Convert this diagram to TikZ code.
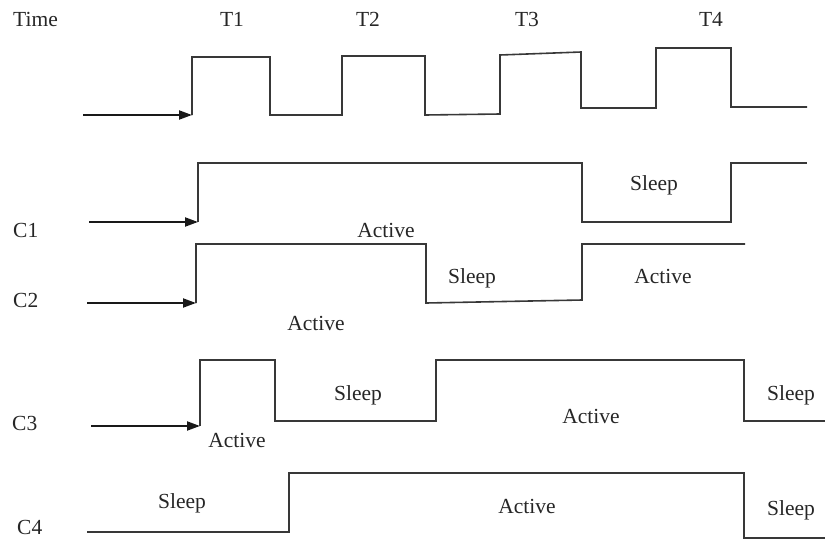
\documentclass[tikz,border=0pt]{standalone}
\usepackage{fontspec}
\setmainfont{Liberation Serif}
\usetikzlibrary{arrows.meta}
\begin{document}
\begin{tikzpicture}[x=1pt,y=-1pt,
  wave/.style={draw=black!78,line width=1.6pt,line join=miter},
  inarrow/.style={draw=black!90,line width=2pt,-{Triangle[length=13pt,width=9pt]}},
  lbl/.style={font=\fontsize{21.5}{24}\selectfont,text=black!85,inner sep=0pt,anchor=base},
  rowlbl/.style={lbl,anchor=base west}]
\useasboundingbox (0,0) rectangle (825,539);
% row labels
\node[rowlbl] (ltime) at (13,26) {Time};
\node[rowlbl] (lc1) at (13,237) {C1};
\node[rowlbl] (lc2) at (13,307) {C2};
\node[rowlbl] (lc3) at (12,430) {C3};
\node[rowlbl] (lc4) at (17,534) {C4};
% time labels
\node[lbl] (T1) at (232,26) {T1};
\node[lbl] (T2) at (368,26) {T2};
\node[lbl] (T3) at (527,26) {T3};
\node[lbl] (T4) at (711,26) {T4};
% Time waveform
\coordinate (ta) at (83,115);
\coordinate (tb) at (192,115);
\draw[inarrow] (ta) -- (tb);
\draw[wave] (tb) -- (192,57) -- (270,57) -- (270,115) -- (342,115) -- (342,56) -- (425,56) -- (425,115) -- (500,114) -- (500,55) -- (581,52) -- (581,108) -- (656,108) -- (656,48) -- (731,48) -- (731,107) -- (807,107);
% C1
\coordinate (c1a) at (89,222);
\coordinate (c1b) at (198,222);
\draw[inarrow] (c1a) -- (c1b);
\draw[wave] (c1b) -- (198,163) -- (582,163) -- (582,222) -- (731,222) -- (731,163) -- (807,163);
\node[lbl] (c1act) at (386,237) {Active};
\node[lbl] (c1slp) at (654,190) {Sleep};
% C2
\coordinate (c2a) at (87,303);
\coordinate (c2b) at (196,303);
\draw[inarrow] (c2a) -- (c2b);
\draw[wave] (c2b) -- (196,244) -- (426,244) -- (426,303) -- (582,300) -- (582,244) -- (745,244);
\node[lbl] (c2act) at (316,330) {Active};
\node[lbl] (c2slp) at (472,283) {Sleep};
\node[lbl] (c2act2) at (663,283) {Active};
% C3
\coordinate (c3a) at (91,426);
\coordinate (c3b) at (200,426);
\draw[inarrow] (c3a) -- (c3b);
\draw[wave] (c3b) -- (200,360) -- (275,360) -- (275,421) -- (436,421) -- (436,360) -- (744,360) -- (744,421) -- (825,421);
\node[lbl] (c3act) at (237,447) {Active};
\node[lbl] (c3slp) at (358,400) {Sleep};
\node[lbl] (c3act2) at (591,423) {Active};
\node[lbl] (c3slp2) at (791,400) {Sleep};
% C4
\draw[wave] (87,532) -- (289,532) -- (289,473) -- (744,473) -- (744,538) -- (825,538);
\node[lbl] (c4slp) at (182,508) {Sleep};
\node[lbl] (c4act) at (527,513) {Active};
\node[lbl] (c4slp2) at (791,515) {Sleep};
\end{tikzpicture}
\end{document}
